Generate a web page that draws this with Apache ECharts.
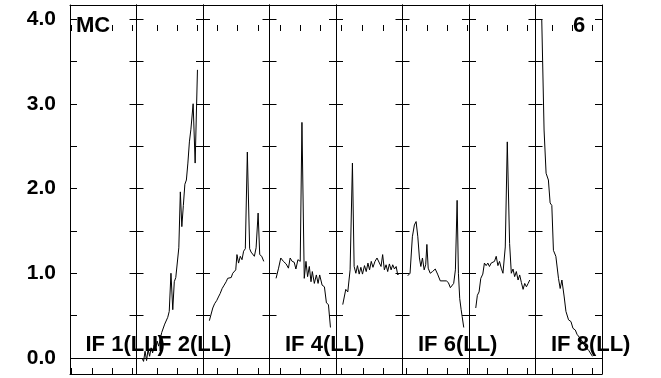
<!DOCTYPE html>
<html><head><meta charset="utf-8">
<script src="https://cdn.jsdelivr.net/npm/echarts@6/dist/echarts.min.js"></script>
<style>html,body{margin:0;padding:0;background:#fff}#c{width:661px;height:378px}</style>
</head><body><div id="c"></div>
<script>
// ---- data ----
const panelNames = ['IF 1(LL)','IF 2(LL)','IF 3(LL)','IF 4(LL)','IF 5(LL)','IF 6(LL)','IF 7(LL)','IF 8(LL)'];
const panelLabelShown = [true,true,false,true,false,true,false,true];
const cornerLeft = 'MC';
const cornerRight = '6';
const yLabelValues = [0,1,2,3,4];
const xTickValues = [
  [1.7,21.7,41.7,61.7],
  [20.2,40.2,60.2],
  [13.7,33.7,54.5],
  [10.5,30.5,50.5],
  [5.5,26.7,46.7],
  [4.2,24.2,44.2,64.2],
  [17.7,37.7,57.7],
  [16.2,36.2,56.2]
];
const if1 = [];
const if2 = [[5.5,0.0],[7,-0.04],[8.5,0.08],[10,-0.03],[11.5,0.1],[13,0.02],[14.5,0.12],[16,0.06],[17.5,0.15],[19,0.1],[20.5,0.2],[22,0.14],[23.5,0.22],[25,0.3],[26.5,0.28],[28,0.4],[29.5,0.42],[31,0.48],[32.5,0.55],[34.2,1.0],[36,0.57],[37.5,0.9],[39,0.95],[40.5,0.97],[42,1.3],[43.5,1.96],[45,1.55],[46.5,1.8],[48,2.05],[49.5,2.1],[51,2.3],[52.5,2.55],[54,2.7],[56.2,3.0],[58.2,2.3],[60.5,3.4]];
const if3 = [[6.3,0.44],[9.7,0.59],[11.5,0.64],[13.7,0.68],[15.3,0.72],[17,0.76],[19,0.82],[21,0.86],[23,0.9],[24.5,0.94],[26.3,0.96],[28,0.95],[29.5,1.0],[31,0.99],[32.5,1.04],[33.7,1.22],[35.3,1.12],[37,1.2],[38.7,1.16],[40.3,1.26],[42,1.29],[44,2.43],[46.3,1.29],[47.7,1.25],[49.3,1.27],[51,1.2],[52.7,1.3],[54.7,1.71],[56.3,1.22],[58.3,1.2],[60.3,1.14]];
const if4 = [[6.5,0.94],[9,1.06],[11.2,1.18],[13.8,1.14],[16.5,1.11],[18.8,1.06],[20.5,1.18],[22.5,1.14],[24.5,1.13],[26.2,1.05],[28.2,1.16],[30.5,1.14],[32.2,2.78],[34.5,0.94],[36.2,1.14],[37.8,0.96],[39.5,1.08],[41.2,0.9],[42.5,1.02],[44.5,0.88],[46.5,0.98],[48.2,0.88],[49.8,0.98],[52.2,0.86],[54.5,0.84],[56.5,0.65],[58.5,0.63],[60.5,0.36]];
const if5 = [[6.7,0.63],[9.7,0.81],[11.7,0.78],[14,1.04],[16.3,2.3],[18,1.08],[19.7,1.0],[21.3,1.09],[23,0.99],[24.7,1.07],[26.3,0.99],[28.3,1.09],[30,1.02],[31.7,1.12],[33.3,1.04],[35,1.14],[36.7,1.07],[38.7,1.14],[40.7,1.18],[42.5,1.17],[44.7,1.08],[46.3,1.22],[48,1.04],[49.7,1.1],[51.3,1.02],[53,1.11],[54.7,1.04],[56.3,1.1],[58,1.05],[59.7,1.08],[61.3,0.98],[62.5,1.0]];
const if6 = [[5.2,0.97],[7.5,1.0],[9.8,1.43],[11.8,1.57],[13.5,1.61],[15.2,1.43],[16.8,1.18],[18.2,1.08],[19.8,1.18],[21.5,1.04],[23,1.1],[24.2,1.34],[25.5,1.06],[27.5,1.0],[29.8,1.02],[32.5,1.05],[34.8,0.99],[37.5,0.91],[40.2,0.91],[43.5,0.91],[45.5,0.89],[47.5,0.83],[49.2,0.81],[50.8,0.88],[52.5,1.04],[54.2,1.86],[55.5,1.0],[56.8,0.7],[58.2,0.57],[59.2,0.49],[60.8,0.36]];
const if7 = [[6.7,0.59],[8.3,0.74],[10,0.78],[11.7,0.94],[13.7,0.99],[15.3,1.12],[17,1.09],[18.7,1.12],[20.3,1.08],[22,1.12],[23.7,1.11],[25.3,1.14],[27,1.2],[28.7,1.09],[30.3,1.14],[32,1.06],[33.7,1.0],[36,1.31],[38,2.55],[40.3,1.35],[42,1.0],[43.7,1.05],[45.3,0.96],[47,1.02],[48.7,0.92],[50.3,0.98],[52,0.89],[53.7,0.81],[55.3,0.88],[57,0.84],[58.7,0.88],[60.3,0.92]];
const if8 = [[6.2,4.0],[8.5,2.69],[10.5,2.18],[12.8,2.1],[14.5,1.83],[16.2,1.8],[17.8,1.27],[20.2,1.2],[22.8,0.94],[24.5,0.82],[26.2,0.92],[28.5,0.72],[30.2,0.55],[32.8,0.45],[35.2,0.43],[37.2,0.35],[39.5,0.33],[41.2,0.28],[43.8,0.24],[46.2,0.2],[49.5,0.13],[52.8,0.09],[56.5,0.02]];
const panelData = [if1,if2,if3,if4,if5,if6,if7,if8];

// ---- layout ----
const PLOT_LEFT = 70, PANEL_W = 66.5, PLOT_TOP = 5, PLOT_BOTTOM = 374;
const ZERO_PX = 358, PX_PER_Y = 84.75;           // vertical scale of the value axis
const X_MIN = 0, X_MAX = 66;
const Y_MIN = -(PLOT_BOTTOM - ZERO_PX) / PX_PER_Y;
const Y_MAX = (ZERO_PX - PLOT_TOP) / PX_PER_Y;
const PX_PER_X = PANEL_W / (X_MAX - X_MIN);
const FONT = '"Liberation Sans", Arial, Helvetica, sans-serif';
const BLACK = '#000';
const lineS = {color: BLACK, width: 1};

const grid = [], xAxis = [], yAxis = [], series = [], graphic = [];
function addGrid(g) { grid.push(Object.assign({outerBoundsMode: 'none', containLabel: false}, g)); return grid.length - 1; }
function hiddenAxis(gi) { return {type: 'value', gridIndex: gi, show: false, min: 0, max: 1}; }

// 1) main panels: bottom + left axes with the data
for (let k = 0; k < 8; k++) {
  const gi = addGrid({left: PLOT_LEFT + PANEL_W * k, top: PLOT_TOP, width: PANEL_W, height: PLOT_BOTTOM - PLOT_TOP});
  xAxis.push({type: 'value', gridIndex: gi, position: 'bottom', min: X_MIN, max: X_MAX,
    axisLine: {show: true, onZero: false, lineStyle: lineS},
    axisTick: {show: true, inside: true, length: 6, customValues: xTickValues[k].slice(), lineStyle: lineS},
    axisLabel: {show: false}, splitLine: {show: false}});
  yAxis.push({type: 'value', gridIndex: gi, position: 'left', min: Y_MIN, max: Y_MAX,
    axisLine: {show: true, onZero: false, lineStyle: lineS},
    axisTick: {show: false},
    axisLabel: {show: k === 0, customValues: yLabelValues.slice(), margin: 14,
      formatter: v => Number(v).toFixed(1), color: BLACK, fontFamily: FONT, fontWeight: 'bold', fontSize: 21},
    splitLine: {show: false}});
  series.push({type: 'line', xAxisIndex: xAxis.length - 1, yAxisIndex: yAxis.length - 1, data: panelData[k],
    showSymbol: false, symbol: 'none', lineStyle: lineS, silent: true,
    markLine: {silent: true, symbol: 'none', label: {show: false},
      lineStyle: {color: BLACK, width: 1, type: 'solid'}, data: [{yAxis: 0}]}});
  if (panelLabelShown[k]) {
    graphic.push({type: 'text', left: PLOT_LEFT + PANEL_W * k + 15.5, top: 334, silent: true,
      style: {text: panelNames[k], fill: BLACK, font: 'bold 22px ' + FONT}});
  }
}
// 2) frame: top + right axis lines of each panel
for (let k = 0; k < 8; k++) {
  const gi = addGrid({left: PLOT_LEFT + PANEL_W * k, top: PLOT_TOP, width: PANEL_W, height: PLOT_BOTTOM - PLOT_TOP});
  xAxis.push({type: 'value', gridIndex: gi, position: 'top', min: X_MIN, max: X_MAX,
    axisLine: {show: true, onZero: false, lineStyle: lineS}, axisTick: {show: false},
    axisLabel: {show: false}, splitLine: {show: false}});
  yAxis.push({type: 'value', gridIndex: gi, position: 'right', min: Y_MIN, max: Y_MAX,
    axisLine: {show: true, onZero: false, lineStyle: lineS}, axisTick: {show: false},
    axisLabel: {show: false}, splitLine: {show: false}});
}
// 3) value ticks every 0.5 on the borders and across the panel dividers
const Y_TICK_MIN = 0, Y_TICK_MAX = 4, Y_TICK_STEP = 0.5, HALF_TICK = 7;
for (let j = 0; j <= 8; j++) {
  const xLine = PLOT_LEFT + PANEL_W * j;
  const left = j === 0 ? xLine : xLine - HALF_TICK;
  const len = (j === 0 || j === 8) ? HALF_TICK : 2 * HALF_TICK;
  const gi = addGrid({left: left, width: 2 * HALF_TICK,
    top: ZERO_PX - Y_TICK_MAX * PX_PER_Y, height: (Y_TICK_MAX - Y_TICK_MIN) * PX_PER_Y});
  xAxis.push(hiddenAxis(gi));
  yAxis.push({type: 'value', gridIndex: gi, position: 'left', min: Y_TICK_MIN, max: Y_TICK_MAX, interval: Y_TICK_STEP,
    axisLine: {show: false}, axisTick: {show: true, inside: true, length: len, lineStyle: lineS},
    axisLabel: {show: false}, splitLine: {show: false}});
}
// 4) ticks along the top border, same places as the bottom ones
for (let k = 0; k < 8; k++) {
  const t = xTickValues[k];
  const gi = addGrid({left: PLOT_LEFT + PANEL_W * k + t[0] * PX_PER_X, width: (t[t.length - 1] - t[0]) * PX_PER_X,
    top: PLOT_TOP, height: 20});
  xAxis.push({type: 'value', gridIndex: gi, position: 'top', min: 0, max: t.length - 1, interval: 1,
    axisLine: {show: false}, axisTick: {show: true, inside: true, length: 6, lineStyle: lineS},
    axisLabel: {show: false}, splitLine: {show: false}});
  yAxis.push(hiddenAxis(gi));
}
graphic.push({type: 'text', left: 76, top: 15, silent: true, style: {text: cornerLeft, fill: BLACK, font: 'bold 22px ' + FONT}});
graphic.push({type: 'text', left: 573, top: 15, silent: true, style: {text: cornerRight, fill: BLACK, font: 'bold 22px ' + FONT}});

const chart = echarts.init(document.getElementById('c'), null, {renderer: 'canvas'});
chart.setOption({animation: false, backgroundColor: '#fff', grid, xAxis, yAxis, series, graphic});
</script></body></html>
